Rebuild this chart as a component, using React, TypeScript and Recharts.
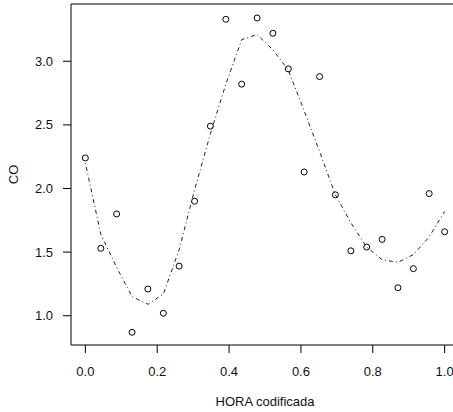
import React from "react";
import {
  ComposedChart,
  Scatter,
  Line,
  XAxis,
  YAxis,
  ReferenceLine,
  Label,
} from "recharts";

// HORA codificada (24 observations)
const hora = [
  0, 0.043, 0.087, 0.13, 0.174, 0.217, 0.261, 0.304, 0.348, 0.391, 0.435, 0.478,
  0.522, 0.565, 0.609, 0.652, 0.696, 0.739, 0.783, 0.826, 0.87, 0.913, 0.957, 1.0,
];

// observed CO
const co = [
  2.24, 1.53, 1.8, 0.87, 1.21, 1.02, 1.39, 1.9, 2.49, 3.33, 2.82, 3.34,
  3.22, 2.94, 2.13, 2.88, 1.95, 1.51, 1.54, 1.6, 1.22, 1.37, 1.96, 1.66,
];

// smoothed fit
const coFit = [
  2.2, 1.64, 1.38, 1.15, 1.09, 1.17, 1.52, 1.99, 2.43, 2.82, 3.17, 3.21,
  3.09, 2.93, 2.61, 2.29, 1.95, 1.73, 1.54, 1.44, 1.42, 1.48, 1.62, 1.82,
];

const xTicks = [0, 0.2, 0.4, 0.6, 0.8, 1.0];
const yTicks = [1.0, 1.5, 2.0, 2.5, 3.0];

const points = hora.map((x, i) => ({ x, y: co[i] }));
const fitted = hora.map((x, i) => ({ x, y: coFit[i] }));

const font = "'Liberation Sans', Arial, Helvetica, sans-serif";
const tickStyle = { fontSize: 13, fill: "#111", fontFamily: font };

export default function App() {
  return (
    <div
      style={{
        position: "absolute",
        left: 0,
        top: 0,
        width: 453,
        height: 412,
        overflow: "hidden",
        background: "#fff",
      }}
    >
      <ComposedChart
        width={460}
        height={412}
        margin={{ top: 4, right: 1, left: 0, bottom: 0 }}
      >
        <XAxis
          dataKey="x"
          type="number"
          domain={[-0.04, 1.04]}
          allowDataOverflow
          ticks={xTicks}
          tickFormatter={(v: number) => v.toFixed(1)}
          height={67}
          tickSize={8}
          tickMargin={14}
          tick={tickStyle}
          stroke="#000"
          axisLine={{ stroke: "#000" }}
          tickLine={{ stroke: "#000" }}
        >
          <Label
            value="HORA codificada"
            position="insideBottom"
            offset={6}
            style={{ fontSize: 13, fill: "#111", fontFamily: font }}
          />
        </XAxis>
        <YAxis
          dataKey="y"
          type="number"
          domain={[0.77, 3.45]}
          allowDataOverflow
          ticks={yTicks}
          tickFormatter={(v: number) => v.toFixed(1)}
          width={71}
          tickSize={8}
          tickMargin={10}
          tick={tickStyle}
          axisLine={{ stroke: "#000" }}
          tickLine={{ stroke: "#000" }}
        >
          <Label
            value="CO"
            angle={-90}
            position="center"
            dx={-22}
            style={{ fontSize: 13, fill: "#111", fontFamily: font }}
          />
        </YAxis>
        <ReferenceLine y={3.45} stroke="#000" />
        <Line
          data={fitted}
          dataKey="y"
          type="linear"
          stroke="#222"
          strokeWidth={1}
          strokeDasharray="1 3 4 3"
          dot={false}
          activeDot={false}
          isAnimationActive={false}
        />
        <Scatter
          data={points}
          dataKey="y"
          isAnimationActive={false}
          shape={(p: any) => (
            <circle cx={p.cx} cy={p.cy} r={3} fill="none" stroke="#000" strokeWidth={1} />
          )}
        />
      </ComposedChart>
    </div>
  );
}
